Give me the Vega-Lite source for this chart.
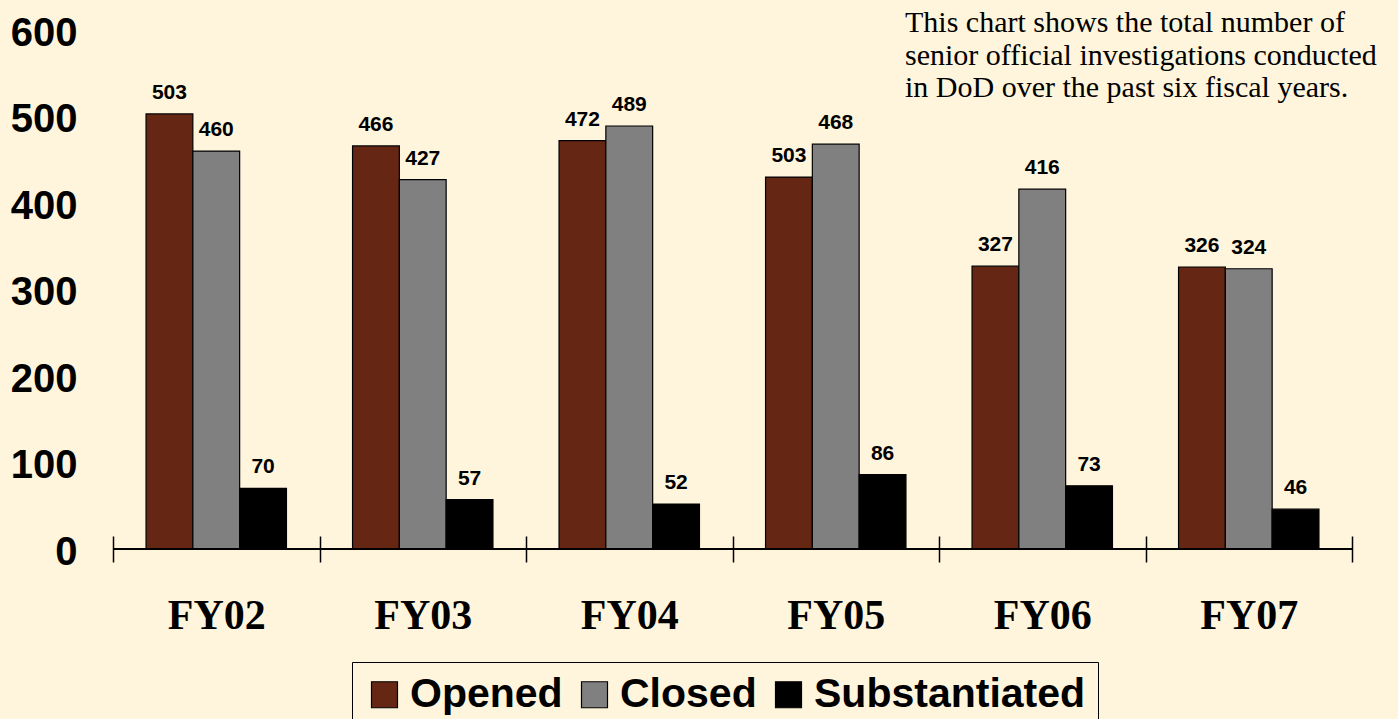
{
  "$schema": "https://vega.github.io/schema/vega-lite/v6.json",
  "width": 1239,
  "height": 519,
  "autosize": {"type": "none"},
  "padding": {"left": 113, "top": 30, "right": 46, "bottom": 170},
  "background": "#FFF5DC",
  "config": {"view": {"stroke": null}},
  "title": {
    "text": ["This chart shows the total number of", "senior official investigations conducted", "in DoD over the past six fiscal years."],
    "anchor": "start",
    "frame": "group",
    "align": "left",
    "dx": 792,
    "dy": 114,
    "offset": 0,
    "font": "Liberation Serif",
    "fontSize": 30,
    "fontWeight": "normal",
    "color": "black",
    "lineHeight": 32.5,
    "baseline": "alphabetic"
  },
  "data": {
    "values": [
      {"year": "FY02", "series": "Opened", "value": 503, "label": "503"},
      {"year": "FY02", "series": "Closed", "value": 460, "label": "460"},
      {"year": "FY02", "series": "Substantiated", "value": 70, "label": "70"},
      {"year": "FY03", "series": "Opened", "value": 466, "label": "466"},
      {"year": "FY03", "series": "Closed", "value": 427, "label": "427"},
      {"year": "FY03", "series": "Substantiated", "value": 57, "label": "57"},
      {"year": "FY04", "series": "Opened", "value": 472, "label": "472"},
      {"year": "FY04", "series": "Closed", "value": 489, "label": "489"},
      {"year": "FY04", "series": "Substantiated", "value": 52, "label": "52"},
      {"year": "FY05", "series": "Opened", "value": 430, "label": "503"},
      {"year": "FY05", "series": "Closed", "value": 468, "label": "468"},
      {"year": "FY05", "series": "Substantiated", "value": 86, "label": "86"},
      {"year": "FY06", "series": "Opened", "value": 327, "label": "327"},
      {"year": "FY06", "series": "Closed", "value": 416, "label": "416"},
      {"year": "FY06", "series": "Substantiated", "value": 73, "label": "73"},
      {"year": "FY07", "series": "Opened", "value": 326, "label": "326"},
      {"year": "FY07", "series": "Closed", "value": 324, "label": "324"},
      {"year": "FY07", "series": "Substantiated", "value": 46, "label": "46"}
    ]
  },
  "encoding": {
    "x": {
      "field": "year",
      "type": "nominal",
      "title": null,
      "scale": {"paddingInner": 0, "paddingOuter": 0},
      "axis": {
        "orient": "bottom",
        "offset": -13,
        "tickSize": 26,
        "tickBand": "extent",
        "tickColor": "black",
        "tickWidth": 1.5,
        "domain": false,
        "labelFont": "Liberation Serif",
        "labelFontSize": 42,
        "labelFontWeight": "bold",
        "labelColor": "black",
        "labelPadding": 66,
        "labelBaseline": "alphabetic",
        "labelAngle": 0
      }
    },
    "xOffset": {
      "field": "series",
      "type": "nominal",
      "sort": ["Opened", "Closed", "Substantiated"],
      "scale": {"paddingInner": 0, "paddingOuter": 0.706}
    },
    "y": {
      "field": "value",
      "type": "quantitative",
      "title": null,
      "scale": {"domain": [0, 600], "nice": false},
      "axis": {
        "values": [0, 100, 200, 300, 400, 500, 600],
        "grid": false,
        "domain": false,
        "ticks": false,
        "labelFont": "Liberation Sans",
        "labelFontSize": 40,
        "labelFontWeight": "bold",
        "labelColor": "black",
        "labelPadding": 36,
        "labelOffset": 3
      }
    }
  },
  "layer": [
    {
      "mark": {"type": "bar", "stroke": "black", "strokeWidth": 1.2},
      "encoding": {
        "color": {
          "field": "series",
          "type": "nominal",
          "sort": ["Opened", "Closed", "Substantiated"],
          "scale": {"domain": ["Opened", "Closed", "Substantiated"], "range": ["#662614", "#808080", "#000000"]},
          "legend": {
            "orient": "none",
            "legendX": 239,
            "legendY": 632,
            "direction": "horizontal",
            "title": null,
            "symbolType": "square",
            "symbolSize": 676,
            "symbolStrokeColor": "black",
            "symbolStrokeWidth": 1.2,
            "symbolOpacity": 1,
            "labelFont": "Liberation Sans",
            "labelFontSize": 41,
            "labelFontWeight": "bold",
            "labelColor": "black",
            "labelOffset": 5,
            "labelLimit": 400,
            "columnPadding": 11,
            "strokeColor": "black",
            "padding": 12,
            "fillColor": "#FFF5DC"
          }
        }
      }
    },
    {
      "mark": {"type": "text", "dy": -15, "baseline": "alphabetic", "font": "Liberation Sans", "fontSize": 21, "fontWeight": "bold", "color": "black"},
      "encoding": {
        "text": {"field": "label"}
      }
    },
    {
      "mark": {"type": "rule", "color": "black", "strokeWidth": 1.5},
      "encoding": {"y": {"datum": 0}, "x": null, "xOffset": null}
    }
  ]
}
